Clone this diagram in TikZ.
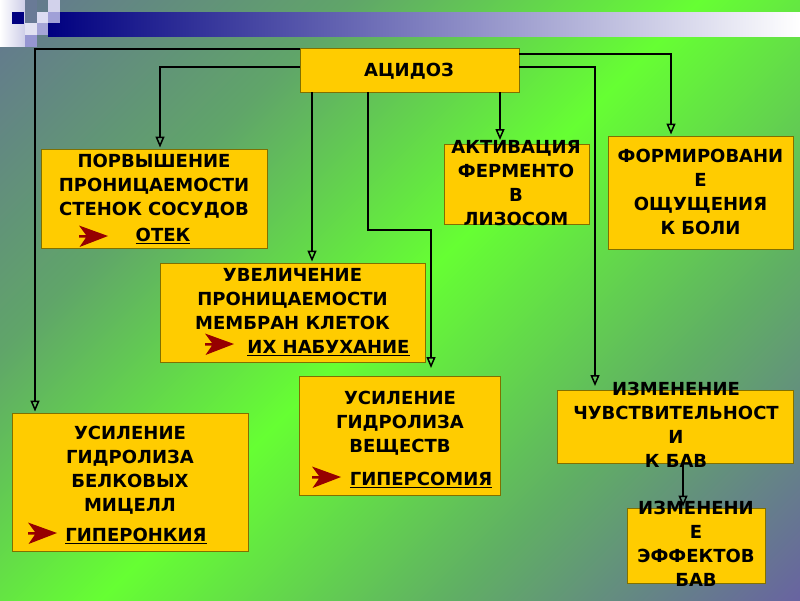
\documentclass[tikz,border=0pt]{standalone}
\usepackage{fontspec}
\setmainfont{DejaVu Sans}
\usetikzlibrary{arrows.meta}
\definecolor{boxfill}{RGB}{255,204,0}
\definecolor{boxline}{RGB}{128,112,0}
\definecolor{darkred}{RGB}{150,0,0}
\definecolor{cTL}{RGB}{100,118,145}
\definecolor{cQ1}{RGB}{96,165,105}
\definecolor{cMid}{RGB}{102,255,51}
\definecolor{cQ3}{RGB}{96,175,100}
\definecolor{cBR}{RGB}{104,100,160}
\definecolor{navybar}{RGB}{0,0,128}
\definecolor{sqA}{RGB}{205,205,232}
\definecolor{sqB}{RGB}{105,122,150}
\definecolor{sqC}{RGB}{210,210,235}
\definecolor{sqD}{RGB}{220,220,242}
\definecolor{sqE}{RGB}{160,160,215}
\definecolor{sqF}{RGB}{225,225,242}
\definecolor{sqG}{RGB}{165,165,215}
\definecolor{sqH}{RGB}{150,150,210}
\pgfdeclareverticalshading{bgshade}{100bp}{color(0bp)=(cBR); color(14.64bp)=(cBR); color(32.32bp)=(cQ3); color(50bp)=(cMid); color(67.68bp)=(cQ1); color(85.36bp)=(cTL); color(100bp)=(cTL)}
\begin{document}
\begin{tikzpicture}[x=1pt,y=-1pt,
  box/.style={draw=boxline, fill=boxfill, line width=1pt, inner sep=0pt, outer sep=0pt},
  conn/.style={draw=black, line width=1.5pt, -{Triangle[open,length=11pt,width=9pt]}, shorten >=1.5pt},
  txt/.style={font=\fontsize{18}{24}\selectfont\bfseries, align=center, inner sep=0pt,
    execute at begin node=\strut, execute at end node=\strut},
  redarr/.pic={\fill[darkred] (0,-10.5) -- (29,0) -- (0.5,11) -- (7,1.5) -- (0,1.5) -- (0,-1) -- (7,-1) -- cycle;}]
\useasboundingbox (0,0) rectangle (800,600);
% background
\shade[shading=bgshade, shading angle=45] (0,0) rectangle (800,600);
\shade[left color=navybar, right color=white] (48,12) rectangle (800,36);
% corner squares
\shade[left color=white, right color=sqA] (0,0) rectangle (25,46);
\fill[navybar] (12,12) rectangle (24,24);
\fill[sqB] (25,0) rectangle (37,23);
\fill[sqC] (48,0) rectangle (60,12);
\fill[sqD] (37,12) rectangle (48,23);
\fill[sqE] (48,12) rectangle (60,23);
\fill[sqF] (25,23) rectangle (37,35);
\fill[sqG] (37,23) rectangle (48,35);
\fill[sqH] (25,35) rectangle (37,47);
% boxes
\node[box, minimum width=219pt, minimum height=44pt] (acid) at (409.5,70) {};
\node[box, minimum width=226pt, minimum height=99pt] (porv) at (154,198.5) {};
\node[box, minimum width=265pt, minimum height=99pt] (uvel) at (292.5,312.5) {};
\node[box, minimum width=145pt, minimum height=80pt] (aktiv) at (516.5,184) {};
\node[box, minimum width=185pt, minimum height=113pt] (form) at (700.5,192.5) {};
\node[box, minimum width=236pt, minimum height=138pt] (usilB) at (130,482) {};
\node[box, minimum width=201pt, minimum height=119pt] (usilV) at (399.5,435.5) {};
\node[box, minimum width=236pt, minimum height=73pt] (izmCh) at (675,426.5) {};
\node[box, minimum width=138pt, minimum height=75pt] (izmEf) at (696,545.5) {};
% connectors
\draw[conn] ([yshift=-1pt]acid.north west) -| ([xshift=23pt]usilB.north west);
\draw[conn] ([yshift=3pt]acid.west) -| ([xshift=6pt]porv.north);
\draw[conn] ([xshift=-97.5pt]acid.south) -- ([xshift=19.5pt]uvel.north);
\draw[conn, shorten >=8pt] ([xshift=-41.5pt]acid.south) -- ++(0,138) -| ([xshift=31.5pt]usilV.north);
\draw[conn, shorten >=4pt] ([xshift=90.5pt]acid.south) -- ([xshift=-16.5pt]aktiv.north);
\draw[conn, shorten >=4pt] ([yshift=3pt]acid.east) -| ([xshift=-80pt]izmCh.north);
\draw[conn] ([yshift=16pt]acid.east) -| ([xshift=-29.5pt]form.north);
\draw[conn] ([xshift=8pt]izmCh.south) -- ([xshift=-13pt]izmEf.north);
% red arrows
\pic at (79,236) {redarr};
\pic at (205,344) {redarr};
\pic at (28,533) {redarr};
\pic at (312,477) {redarr};
% texts
\node[txt] (tAcid) at (409,71.8) {АЦИДОЗ};
\node[txt] (tPorv) at (154,188.8) {ПОРВЫШЕНИЕ\\ПРОНИЦАЕМОСТИ\\СТЕНОК СОСУДОВ};
\node[txt] (tOtek) at (163,236.8) {\underline{ОТЕК}};
\node[txt] (tUvel) at (292.5,302.1) {УВЕЛИЧЕНИЕ\\ПРОНИЦАЕМОСТИ\\МЕМБРАН КЛЕТОК};
\node[txt] (tNab) at (328.5,348.8) {\underline{ИХ НАБУХАНИЕ}};
\node[txt] (tAkt) at (516,186.7) {АКТИВАЦИЯ\\ФЕРМЕНТО\\В\\ЛИЗОСОМ};
\node[txt] (tForm) at (700.5,195.4) {ФОРМИРОВАНИ\\Е\\ОЩУЩЕНИЯ\\К БОЛИ};
\node[txt] (tUsB) at (130,472.4) {УСИЛЕНИЕ\\ГИДРОЛИЗА\\БЕЛКОВЫХ\\МИЦЕЛЛ};
\node[txt] (tGipO) at (136,536.4) {\underline{ГИПЕРОНКИЯ}};
\node[txt] (tUsV) at (400,425.8) {УСИЛЕНИЕ\\ГИДРОЛИЗА\\ВЕЩЕСТВ};
\node[txt] (tGipS) at (421,480.4) {\underline{ГИПЕРСОМИЯ}};
\node[txt] (tIzCh) at (676,428.8) {ИЗМЕНЕНИЕ\\ЧУВСТВИТЕЛЬНОСТ\\И\\К БАВ};
\node[txt] (tIzEf) at (696,547.8) {ИЗМЕНЕНИ\\Е\\ЭФФЕКТОВ\\БАВ};
\end{tikzpicture}
\end{document}
